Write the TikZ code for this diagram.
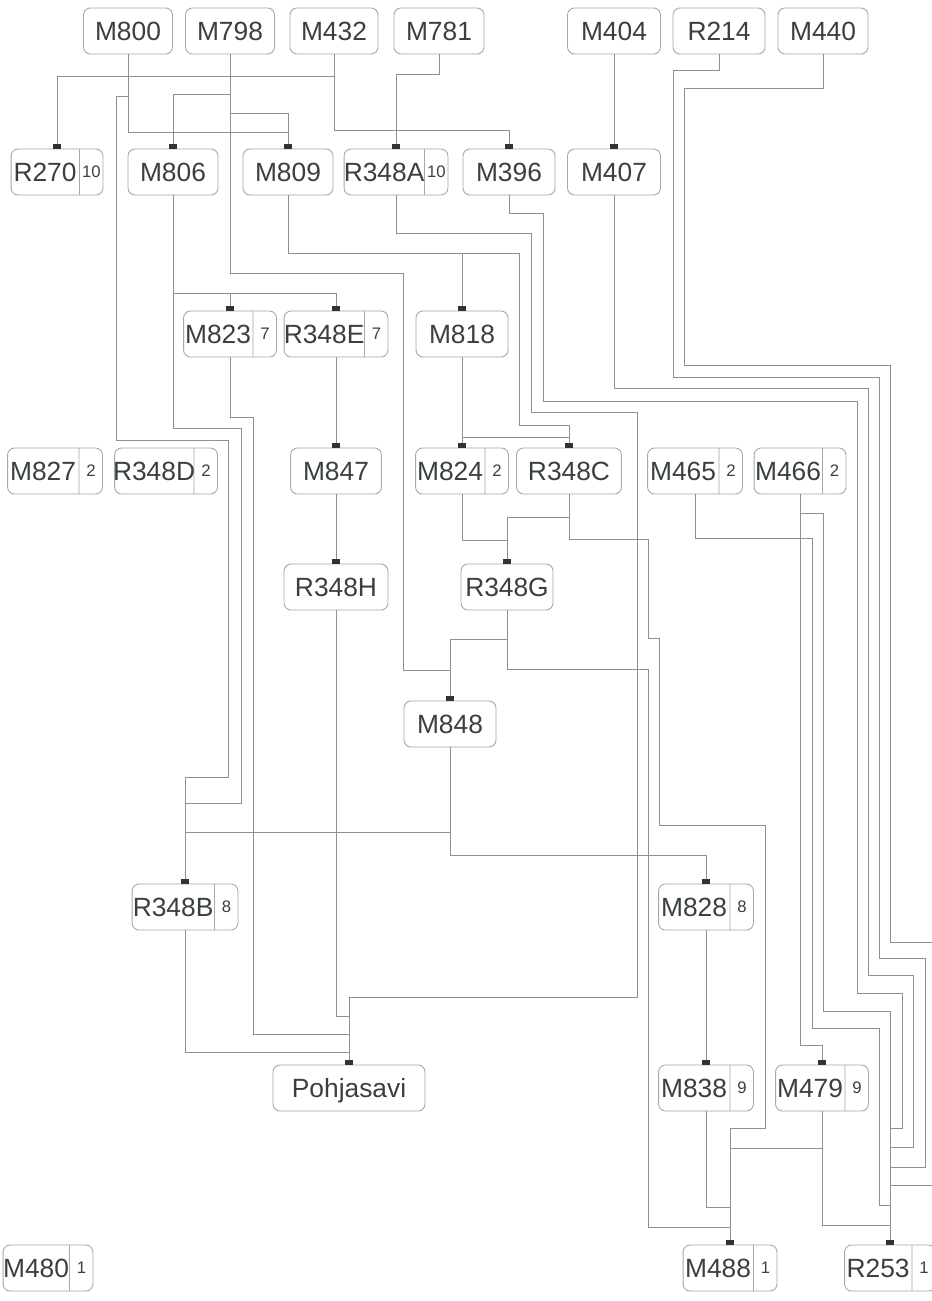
\documentclass[tikz,border=0pt]{standalone}
\usepackage{fontspec}
\setmainfont{Liberation Sans}
\usepackage{xcolor}
\usetikzlibrary{positioning,calc,shapes.multipart}
\definecolor{ink}{HTML}{3A4040}
\definecolor{frame}{HTML}{A3A8A8}
\definecolor{wire}{HTML}{8C9292}
\definecolor{pinfill}{HTML}{2E3434}
\newlength\px
\setlength\px{0.02cm}
\newcommand\unitfont{\fontsize{15}{18}\selectfont}
\newcommand\numfont{\fontsize{9.5}{11}\selectfont}
\newcommand\ustrut{\rule[-7.75pt]{0pt}{26.2pt}}
\newcommand\unum[3]{\makebox[#1\px]{\ustrut#2}\nodepart{two}\makebox[23\px]{\numfont#3}}
\tikzset{
  unitbox/.style={draw=frame,line width=0.5pt,fill=white,rounded corners=4pt,text=ink,font=\unitfont,inner sep=0pt},
  unit/.style={unitbox,minimum width=#1*0.02cm,minimum height=0.92cm,execute at begin node={\ustrut}},
  unit/.default=90,
  numunit/.style={unitbox,rectangle split,rectangle split horizontal,rectangle split parts=2,rectangle split part align={center}},
  link/.style={draw=wire,line width=0.5pt},
  pin/.style={fill=pinfill},
}
\begin{document}
\begin{tikzpicture}[x=0.02cm,y=-0.02cm]
  \useasboundingbox (0,0) rectangle (932,1301);
  \clip (0,0) rectangle (932,1301);
  \node[unit=89] (m800) at (128,31) {M800};
  \node[unit=89] (m798) at (230,31) {M798};
  \node[unit=88] (m432) at (334,31) {M432};
  \node[unit=90] (m781) at (439,31) {M781};
  \node[unit=93] (m404) at (614,31) {M404};
  \node[unit=92] (r214) at (719,31) {R214};
  \node[unit=90] (m440) at (823,31) {M440};
  \node[numunit] (r270) at (57,172) {\unum{68}{R270}{10}};
  \node[unit] (m806) at (173,172) {M806};
  \node[unit] (m809) at (288,172) {M809};
  \node[numunit] (r348a) at (396,172) {\unum{80}{R348A}{10}};
  \node[unit=92] (m396) at (509,172) {M396};
  \node[unit=93] (m407) at (614,172) {M407};
  \node[numunit] (m823) at (230,334) {\unum{69}{M823}{7}};
  \node[numunit] (r348e) at (336,334) {\unum{80}{R348E}{7}};
  \node[unit=92] (m818) at (462,334) {M818};
  \node[numunit] (m827) at (55,471) {\unum{71}{M827}{2}};
  \node[numunit] (r348d) at (166,471) {\unum{79}{R348D}{2}};
  \node[unit=91] (m847) at (336,471) {M847};
  \node[numunit] (m824) at (462,471) {\unum{69}{M824}{2}};
  \node[unit=105] (r348c) at (569,471) {R348C};
  \node[numunit] (m465) at (695,471) {\unum{71}{M465}{2}};
  \node[numunit] (m466) at (800,471) {\unum{68}{M466}{2}};
  \node[unit=104] (r348h) at (336,587) {R348H};
  \node[unit=92] (r348g) at (507,587) {R348G};
  \node[unit=92] (m848) at (450,724) {M848};
  \node[numunit] (r348b) at (185,907) {\unum{82}{R348B}{8}};
  \node[numunit] (m828) at (706,907) {\unum{71}{M828}{8}};
  \node[unit=152] (pohjasavi) at (349,1088) {Pohjasavi};
  \node[numunit] (m838) at (706,1088) {\unum{71}{M838}{9}};
  \node[numunit] (m479) at (822,1088) {\unum{69}{M479}{9}};
  \node[numunit] (m480) at (48,1268) {\unum{66}{M480}{1}};
  \node[numunit] (m488) at (730,1268) {\unum{70}{M488}{1}};
  \node[numunit] (r253) at (890,1268) {\unum{67}{R253}{1}};
  \draw[link] (m800.south) -- ++(0,78) -| (m809.north);
  \draw[link] (m800.south) -- ++(0,42) -- ++(-12,0) -- ++(0,344) -- ++(112,0) -- ++(0,337) -| (r348b.north);
  \draw[link] (m798.south) -- ++(0,40) -| (m806.north);
  \draw[link] (m798.south) -- ++(0,59) -| (m809.north);
  \draw[link] (m798.south) -- ++(0,219) -- ++(173,0) -- ++(0,397) -| (m848.north);
  \draw[link] (m432.south) -- ++(0,22) -| (r270.north);
  \draw[link] (m432.south) -- ++(0,76) -| (m396.north);
  \draw[link] (m781.south) -- ++(0,20) -| (r348a.north);
  \draw[link] (m404.south) -- (m407.north);
  \draw[link] (r214.south) -- ++(0,16) -- ++(-46,0) -- ++(0,307) -- ++(206,0) -- ++(0,581) -- ++(46,0) -- ++(0,209) -| (r253.north);
  \draw[link] (m440.south) -- ++(0,34) -- ++(-139,0) -- ++(0,277) -- ++(206,0) -- ++(0,577) -- ++(55,0) -- ++(0,243) -| (r253.north);
  \draw[link] (m407.south) -- ++(0,193) -- ++(254,0) -- ++(0,587) -- ++(45,0) -- ++(0,172) -| (r253.north);
  \draw[link] (m396.south) -- ++(0,18) -- ++(34,0) -- ++(0,188) -- ++(314,0) -- ++(0,592) -- ++(45,0) -- ++(0,135) -| (r253.north);
  \draw[link] (r348a.south) -- ++(0,38) -- ++(135,0) -- ++(0,179) -- ++(106,0) -- ++(0,585) -| (pohjasavi.north);
  \draw[link] (m809.south) -- ++(0,58) -| (m818.north);
  \draw[link] (m809.south) -- ++(0,58) -- ++(231,0) -- ++(0,172) -| (r348c.north);
  \draw[link] (m806.south) -- ++(0,98) -| (m823.north);
  \draw[link] (m806.south) -- ++(0,98) -| (r348e.north);
  \draw[link] (m806.south) -- ++(0,233) -- ++(68,0) -- ++(0,375) -| (r348b.north);
  \draw[link] (m823.south) -- ++(0,60) -- ++(23,0) -- ++(0,617) -| (pohjasavi.north);
  \draw[link] (r348e.south) -- (m847.north);
  \draw[link] (m847.south) -- (r348h.north);
  \draw[link] (r348h.south) -- ++(0,406) -| (pohjasavi.north);
  \draw[link] (m818.south) -- (m824.north);
  \draw[link] (m818.south) -- ++(0,80) -| (r348c.north);
  \draw[link] (m824.south) -- ++(0,46) -| (r348g.north);
  \draw[link] (r348c.south) -- ++(0,23) -| (r348g.north);
  \draw[link] (r348c.south) -- ++(0,45) -- ++(79,0) -- ++(0,99) -- ++(11,0) -- ++(0,187) -- ++(106,0) -- ++(0,303) -| (m488.north);
  \draw[link] (r348g.south) -- ++(0,29) -| (m848.north);
  \draw[link] (r348g.south) -- ++(0,59) -- ++(141,0) -- ++(0,558) -| (m488.north);
  \draw[link] (m848.south) -- ++(0,85) -| (r348b.north);
  \draw[link] (m848.south) -- ++(0,108) -| (m828.north);
  \draw[link] (r348b.south) -- ++(0,122) -| (pohjasavi.north);
  \draw[link] (m828.south) -- (m838.north);
  \draw[link] (m838.south) -- ++(0,96) -| (m488.north);
  \draw[link] (m479.south) -- ++(0,37) -| (m488.north);
  \draw[link] (m479.south) -- ++(0,114) -| (r253.north);
  \draw[link] (m465.south) -- ++(0,44) -- ++(117,0) -- ++(0,490) -- ++(67,0) -- ++(0,177) -| (r253.north);
  \draw[link] (m466.south) -- ++(0,551) -| (m479.north);
  \draw[link] (m466.south) -- ++(0,19) -- ++(23,0) -- ++(0,498) -| (r253.north);
  \foreach \n in {r270,m806,m809,r348a,m396,m407,m823,r348e,m818,m847,m824,r348c,r348h,r348g,m848,r348b,m828,pohjasavi,m838,m479,m488,r253}
    \fill[pin] ($(\n.north)+(-4,-5)$) rectangle ($(\n.north)+(4,0)$);
\end{tikzpicture}
\end{document}
